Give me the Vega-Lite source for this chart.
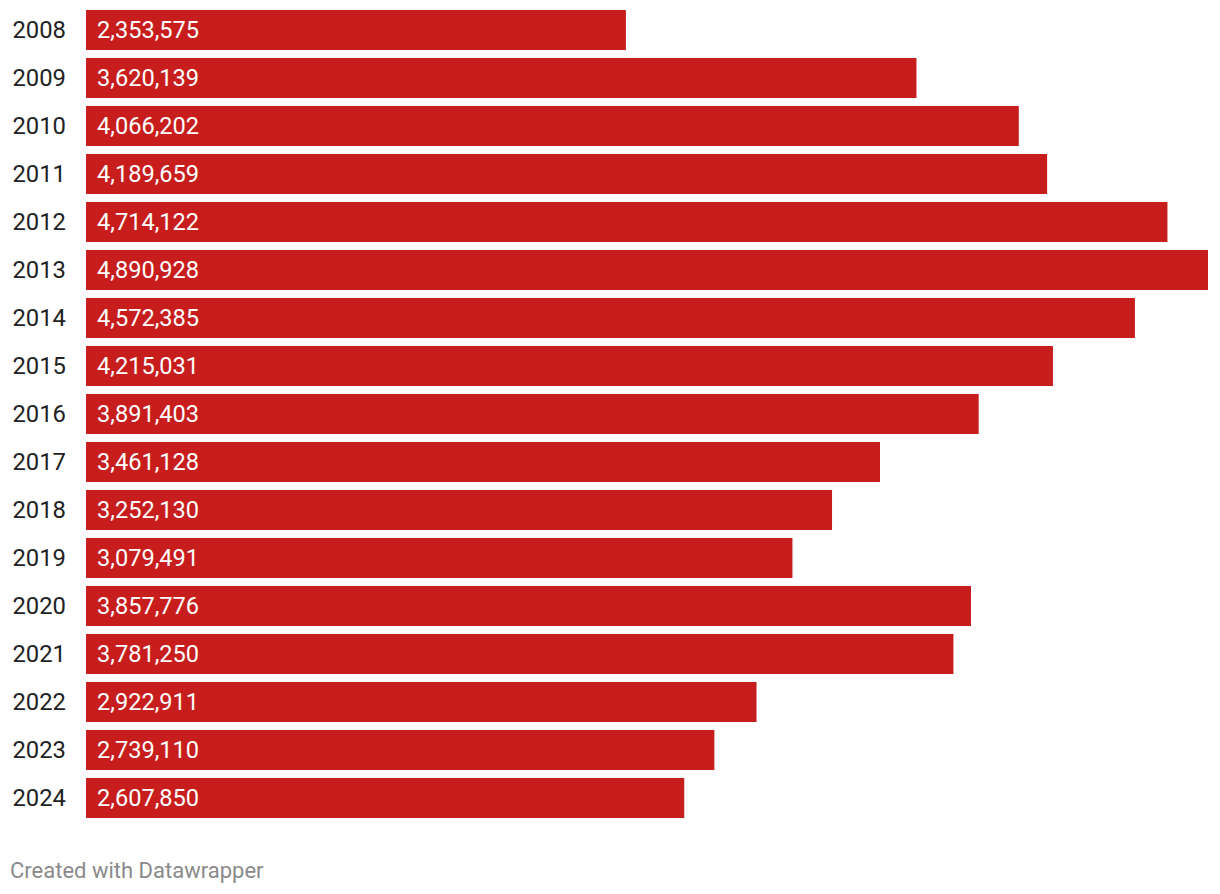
{
  "$schema": "https://vega.github.io/schema/vega-lite/v6.json",
  "width": 1122,
  "height": 816,
  "autosize": {"type": "none"},
  "padding": {"left": 86, "top": 6, "right": 12, "bottom": 72},
  "background": "white",
  "config": {"view": {"stroke": null}, "font": "Roboto"},
  "title": {
    "text": "Created with Datawrapper",
    "orient": "bottom",
    "anchor": "start",
    "frame": "group",
    "dx": -76,
    "offset": 39,
    "font": "Roboto",
    "fontSize": 22,
    "fontWeight": "normal",
    "color": "#8a8a8a"
  },
  "data": {
    "values": [
      {"year": "2008", "value": 2353575},
      {"year": "2009", "value": 3620139},
      {"year": "2010", "value": 4066202},
      {"year": "2011", "value": 4189659},
      {"year": "2012", "value": 4714122},
      {"year": "2013", "value": 4890928},
      {"year": "2014", "value": 4572385},
      {"year": "2015", "value": 4215031},
      {"year": "2016", "value": 3891403},
      {"year": "2017", "value": 3461128},
      {"year": "2018", "value": 3252130},
      {"year": "2019", "value": 3079491},
      {"year": "2020", "value": 3857776},
      {"year": "2021", "value": 3781250},
      {"year": "2022", "value": 2922911},
      {"year": "2023", "value": 2739110},
      {"year": "2024", "value": 2607850}
    ]
  },
  "encoding": {
    "y": {
      "field": "year",
      "type": "nominal",
      "sort": null,
      "scale": {"paddingInner": 0.16667, "paddingOuter": 0.08333},
      "axis": {
        "title": null,
        "domain": false,
        "ticks": false,
        "tickSize": 0,
        "labelAlign": "left",
        "labelPadding": 74,
        "labelFont": "Roboto",
        "labelFontSize": 23.8,
        "labelColor": "#222222",
        "labelOffset": 1
      }
    }
  },
  "layer": [
    {
      "mark": {"type": "bar", "color": "#c71e1d"},
      "encoding": {
        "x": {
          "field": "value",
          "type": "quantitative",
          "scale": {"domain": [0, 4890928], "nice": false, "zero": true},
          "axis": null
        }
      }
    },
    {
      "mark": {"type": "text", "align": "left", "baseline": "middle", "dx": 11, "dy": 1, "font": "Roboto", "fontSize": 23.6, "color": "white"},
      "encoding": {
        "x": {"datum": 0, "type": "quantitative"},
        "text": {"field": "value", "type": "quantitative", "format": ","}
      }
    }
  ]
}
